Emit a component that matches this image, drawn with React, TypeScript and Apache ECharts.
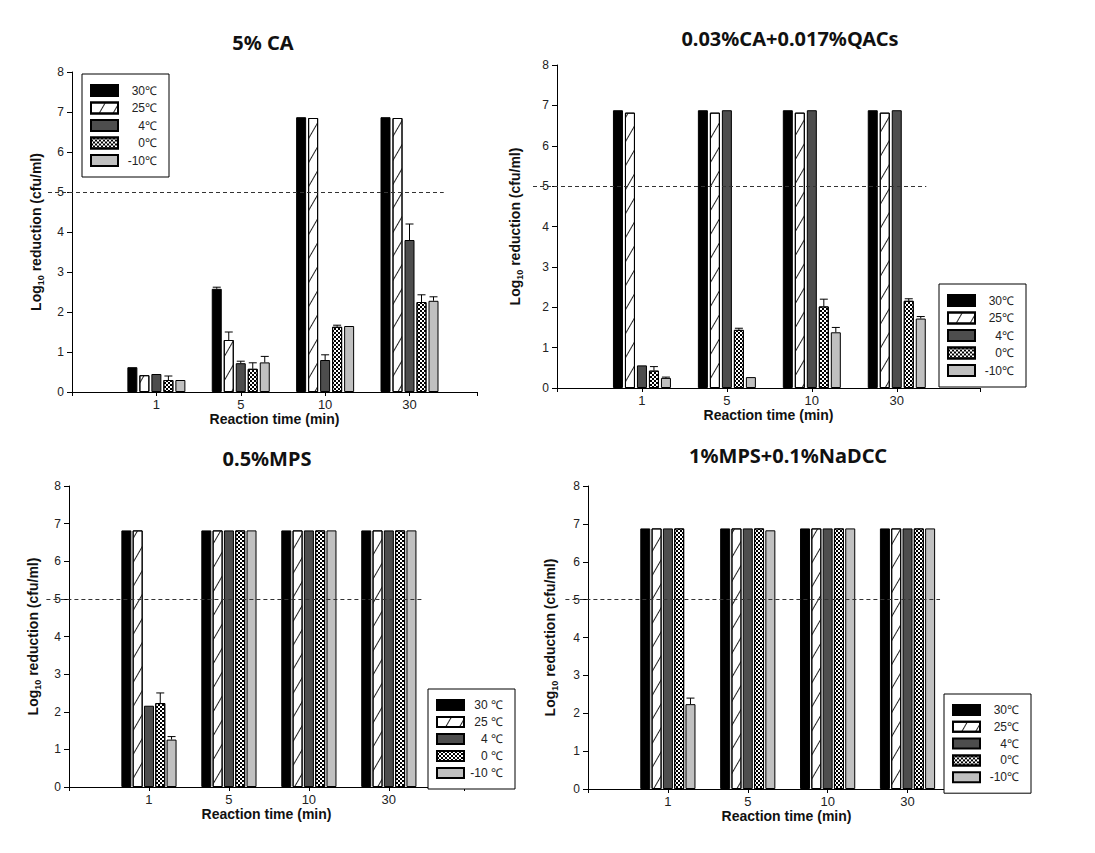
import React, { useEffect, useRef } from "react";
import * as echarts from "echarts";

// ---------- data ----------
const categories = ["1", "5", "10", "30"];
const temps = ["30℃", "25℃", "4℃", "0℃", "-10℃"];
const yTicks = [0, 1, 2, 3, 4, 5, 6, 7, 8];
const threshold = 5;

// Panel A: 5% CA
const caT30 = [0.62, 2.58, 6.87, 6.87];
const caT25 = [0.42, 1.3, 6.85, 6.85];
const caT4 = [0.45, 0.72, 0.8, 3.8];
const caT0 = [0.3, 0.58, 1.63, 2.25];
const caTm10 = [0.3, 0.74, 1.65, 2.28];
const caE30 = [0, 0.04, 0, 0];
const caE25 = [0, 0.2, 0, 0];
const caE4 = [0, 0.05, 0.13, 0.4];
const caE0 = [0.1, 0.15, 0.04, 0.18];
const caEm10 = [0, 0.15, 0, 0.1];

// Panel B: 0.03%CA+0.017%QACs
const qT30 = [6.88, 6.88, 6.88, 6.88];
const qT25 = [6.82, 6.82, 6.82, 6.82];
const qT4 = [0.56, 6.88, 6.88, 6.88];
const qT0 = [0.43, 1.44, 2.02, 2.16];
const qTm10 = [0.25, 0.27, 1.38, 1.72];
const qE30 = [0, 0, 0, 0];
const qE25 = [0, 0, 0, 0];
const qE4 = [0, 0, 0, 0];
const qE0 = [0.1, 0.04, 0.18, 0.05];
const qEm10 = [0.02, 0, 0.12, 0.05];

// Panel C: 0.5%MPS
const mT30 = [6.82, 6.82, 6.82, 6.82];
const mT25 = [6.82, 6.82, 6.82, 6.82];
const mT4 = [2.16, 6.82, 6.82, 6.82];
const mT0 = [2.23, 6.82, 6.82, 6.82];
const mTm10 = [1.26, 6.82, 6.82, 6.82];
const mE30 = [0, 0, 0, 0];
const mE25 = [0, 0, 0, 0];
const mE4 = [0, 0, 0, 0];
const mE0 = [0.27, 0, 0, 0];
const mEm10 = [0.08, 0, 0, 0];

// Panel D: 1%MPS+0.1%NaDCC
const nT30 = [6.88, 6.88, 6.88, 6.88];
const nT25 = [6.88, 6.88, 6.88, 6.88];
const nT4 = [6.88, 6.88, 6.88, 6.88];
const nT0 = [6.88, 6.88, 6.88, 6.88];
const nTm10 = [2.24, 6.83, 6.88, 6.88];
const nE30 = [0, 0, 0, 0];
const nE25 = [0, 0, 0, 0];
const nE4 = [0, 0, 0, 0];
const nE0 = [0, 0, 0, 0];
const nEm10 = [0.16, 0, 0, 0];

// ---------- layout / style ----------
const FONT = "'Liberation Sans', Arial, sans-serif";

const panels = [
  {
    title: "5% CA", titleX: 263, titleY: 42,
    grid: { left: 72, top: 72, width: 405, height: 320 },
    xMax: 4.8, lineEnd: 4.69, barGap: 0.2, yNameGap: 27,
    legend: { left: 82, top: 74, itemH: 11, gap: 4.5, sp: "" },
    values: [caT30, caT25, caT4, caT0, caTm10],
    errors: [caE30, caE25, caE4, caE0, caEm10],
  },
  {
    title: "0.03%CA+0.017%QACs", titleX: 790, titleY: 38,
    grid: { left: 557, top: 65, width: 423, height: 323 },
    xMax: 4.98, lineEnd: 4.63, barGap: 0.2, yNameGap: 33,
    legend: { left: 939, top: 284, itemH: 11, gap: 4.5, sp: "" },
    values: [qT30, qT25, qT4, qT0, qTm10],
    errors: [qE30, qE25, qE4, qE0, qEm10],
  },
  {
    title: "0.5%MPS", titleX: 267, titleY: 458,
    grid: { left: 69, top: 486, width: 395, height: 301 },
    xMax: 4.94, lineEnd: 4.72, barGap: 0.13, yNameGap: 27,
    legend: { left: 428, top: 689, itemH: 10, gap: 5, sp: " " },
    values: [mT30, mT25, mT4, mT0, mTm10],
    errors: [mE30, mE25, mE4, mE0, mEm10],
  },
  {
    title: "1%MPS+0.1%NaDCC", titleX: 788, titleY: 455,
    grid: { left: 588, top: 486, width: 397, height: 303 },
    xMax: 4.97, lineEnd: 4.69, barGap: 0.13, yNameGap: 29,
    legend: { left: 944, top: 694, itemH: 10, gap: 4.8, sp: "" },
    values: [nT30, nT25, nT4, nT0, nTm10],
    errors: [nE30, nE25, nE4, nE0, nEm10],
  },
];

const BAR_W = 10;

const tempStyles: any[] = [
  { color: "#000000", borderColor: "#000", borderWidth: 1 },
  {
    color: "#ffffff", borderColor: "#000", borderWidth: 1,
    decal: {
      symbol: "rect", symbolSize: 1, dashArrayX: [1, 0], dashArrayY: [1, 11],
      rotation: -Math.PI / 3, color: "#222", backgroundColor: "#fff",
    },
  },
  { color: "#4d4d4d", borderColor: "#000", borderWidth: 1 },
  {
    color: "#ffffff", borderColor: "#000", borderWidth: 1,
    decal: {
      symbol: "rect", symbolSize: 1, dashArrayX: [[2, 2], [0, 2, 2, 0]], dashArrayY: [2, 0],
      rotation: 0, color: "#000", backgroundColor: "#fff",
    },
  },
  { color: "#c0c0c0", borderColor: "#000", borderWidth: 1 },
];

function buildOption() {
  const grid: any[] = [];
  const xAxis: any[] = [];
  const yAxis: any[] = [];
  const series: any[] = [];
  const legend: any[] = [];
  const graphic: any[] = [];

  panels.forEach((p, pi) => {
    grid.push({ ...p.grid, containLabel: false });
    xAxis.push({
      type: "value", gridIndex: pi, min: 0, max: p.xMax,
      splitLine: { show: false },
      axisLine: { show: true, lineStyle: { color: "#000", width: 1 } },
      axisTick: { show: true, inside: false, length: 4, lineStyle: { color: "#000" }, customValues: [0, 1, 2, 3, 4, p.xMax] },
      axisLabel: {
        customValues: [1, 2, 3, 4],
        formatter: (v: number) => categories[Math.round(v) - 1] ?? "",
        color: "#222", fontSize: 13, fontFamily: FONT, margin: 6,
      },
      name: "Reaction time (min)", nameLocation: "middle", nameGap: 20,
      nameTextStyle: { fontWeight: "bold", fontSize: 14, fontFamily: FONT, color: "#111" },
    });
    yAxis.push({
      type: "value", gridIndex: pi, min: 0, max: 8, interval: 1,
      splitLine: { show: false },
      axisLine: { show: true, lineStyle: { color: "#000", width: 1 } },
      axisTick: { show: true, inside: false, length: 5, lineStyle: { color: "#000" } },
      axisLabel: {
        color: "#222", fontSize: 12, fontFamily: FONT, margin: 8,
        formatter: (v: number) => (yTicks.includes(v) ? String(v) : ""),
      },
      name: "{b|Log}{s|10}{b| reduction (cfu/ml)}", nameLocation: "middle", nameGap: p.yNameGap,
      nameTextStyle: {
        rich: {
          b: { fontWeight: "bold", fontSize: 14, fontFamily: FONT, color: "#111", lineHeight: 18 },
          s: { fontWeight: "bold", fontSize: 9, fontFamily: FONT, color: "#111", lineHeight: 18, verticalAlign: "bottom", padding: [6, 0, 0, 0] },
        },
      },
    });

    p.values.forEach((vals, ti) => {
      const s: any = {
        type: "bar", name: temps[ti], xAxisIndex: pi, yAxisIndex: pi,
        barWidth: BAR_W, barGap: `${Math.round(p.barGap * 100)}%`,
        itemStyle: tempStyles[ti],
        data: vals.map((v, ci) => [ci + 1, v]),
        z: 2,
      };
      if (ti === 0) {
        s.markLine = {
          silent: true, symbol: "none", label: { show: false },
          lineStyle: { color: "#333", type: [4, 3], width: 1 },
          data: [[{ coord: [0, threshold] }, { coord: [p.lineEnd, threshold] }]],
        };
      }
      series.push(s);
    });

    p.errors.forEach((errs, ti) => {
      const gapPx = BAR_W * p.barGap;
      const offset = (ti - 2) * (BAR_W + gapPx);
      series.push({
        type: "custom", xAxisIndex: pi, yAxisIndex: pi, z: 5, silent: true,
        name: "err" + pi + "_" + ti,
        data: errs.map((e, ci) => [ci + 1, p.values[ti][ci], e]),
        renderItem: (params: any, api: any) => {
          const x = api.value(0), y = api.value(1), e = api.value(2);
          if (!e) return null;
          const b = api.coord([x, y]);
          const t = api.coord([x, y + e]);
          const cx = b[0] + offset;
          const st = { stroke: "#000", lineWidth: 1 };
          return {
            type: "group",
            children: [
              { type: "line", shape: { x1: cx, y1: b[1], x2: cx, y2: t[1] }, style: st },
              { type: "line", shape: { x1: cx - 4, y1: t[1], x2: cx + 4, y2: t[1] }, style: st },
            ],
          };
        },
      });
    });

    const lg = p.legend;
    legend.push({
      data: temps, orient: "vertical", left: lg.left, top: lg.top,
      padding: [10, 12, 10, 8], itemGap: lg.gap, itemWidth: 27, itemHeight: lg.itemH,
      borderColor: "#000", borderWidth: 1, backgroundColor: "#fff",
      selectedMode: false, icon: "rect",
      formatter: (n: string) => `{a|${n.replace("℃", lg.sp + "℃")}}`,
      textStyle: {
        rich: { a: { width: 34, align: "right", fontSize: 12, fontFamily: FONT, color: "#222" } },
      },
    });

    graphic.push({
      type: "text", x: p.titleX, y: p.titleY,
      style: {
        text: p.title, align: "center", verticalAlign: "middle",
        font: "bold 20px 'Noto Sans', sans-serif", fill: "#111",
      },
    });
  });

  return { animation: false, backgroundColor: "#fff", grid, xAxis, yAxis, series, legend, graphic };
}

export default function App() {
  const ref = useRef<HTMLDivElement>(null);
  useEffect(() => {
    if (!ref.current) return;
    const chart = echarts.init(ref.current, undefined, { renderer: "svg" });
    chart.setOption(buildOption() as any);
    return () => chart.dispose();
  }, []);
  return (
    <div
      ref={ref}
      style={{ position: "absolute", left: 0, top: 0, width: 1095, height: 853 }}
    />
  );
}
